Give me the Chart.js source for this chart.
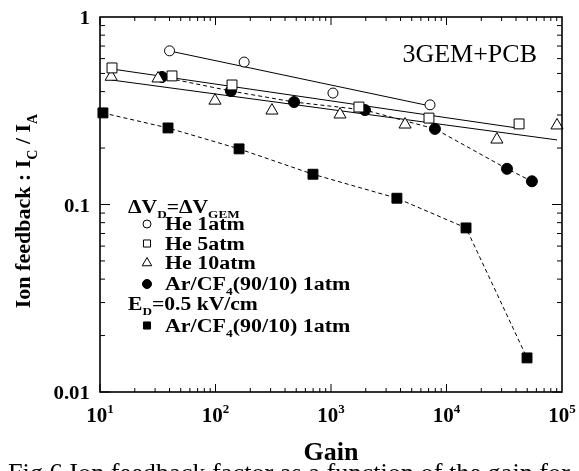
<!DOCTYPE html>
<html lang="en">
<head>
<meta charset="UTF-8">
<title>Ion feedback vs gain</title>
<script src="https://cdn.jsdelivr.net/npm/chart.js"></script>
<style>
  body { margin: 0; background: #fff; }
  canvas { display: block; }
</style>
</head>
<body>
<canvas id="chart" width="579" height="471"></canvas>
<script>
const he1Gain = [40, 177, 1040, 7200];
const he1Feedback = [0.66, 0.575, 0.393, 0.34];
const he5Gain = [12.7, 42, 139, 1745, 7050, 42500];
const he5Feedback = [0.535, 0.485, 0.434, 0.331, 0.289, 0.269];
const he10Gain = [12.5, 31.8, 99, 308, 1197, 4380, 27300, 90500];
const he10Feedback = [0.48, 0.47, 0.358, 0.317, 0.302, 0.267, 0.222, 0.264];
const arVGain = [34.4, 136, 479, 1968, 7940, 33400, 54900];
const arVFeedback = [0.479, 0.403, 0.352, 0.319, 0.253, 0.155, 0.133];
const arEGain = [10.6, 38.8, 160, 698, 3720, 14760, 49800];
const arEFeedback = [0.308, 0.256, 0.198, 0.145, 0.108, 0.075, 0.0152];

// straight-line fits (end points) for the He data
const he1FitGain = [40, 6800];
const he1FitValue = [0.659, 0.338];
const he5FitGain = [12.7, 40700];
const he5FitValue = [0.528, 0.256];
const he10FitGain = [12.7, 90600];
const he10FitValue = [0.461, 0.221];

// axis ticks
const xTickExps = [1, 2, 3, 4, 5];
const yTickValues = [0.01, 0.1, 1];
const yTickLabels = ['0.01', '0.1', '1'];

const FONT = "'Liberation Serif', 'DejaVu Serif', serif";

function pts(xs, ys) {
  return xs.map((x, i) => ({ x: x, y: ys[i] }));
}

// text with sub/superscripts: parts = [[text, 'sub'|'sup'|''], ...]
// sx stretches the text horizontally
function drawRich(ctx, x, y, parts, size, weight, align, sx) {
  sx = sx || 1;
  const fontFor = k => weight + ' ' + (k ? Math.round(size * 0.62) : size) + 'px ' + FONT;
  let w = 0;
  parts.forEach(p => { ctx.font = fontFor(p[1]); w += ctx.measureText(p[0]).width; });
  w *= sx;
  if (align === 'center') x -= w / 2;
  if (align === 'right') x -= w;
  ctx.save();
  ctx.translate(x, y);
  ctx.scale(sx, 1);
  ctx.textAlign = 'left';
  ctx.textBaseline = 'alphabetic';
  let cx = 0;
  parts.forEach(p => {
    ctx.font = fontFor(p[1]);
    let dy = 0;
    if (p[1] === 'sub') dy = size * 0.3;
    if (p[1] === 'sup') dy = -size * 0.45;
    ctx.fillText(p[0], cx, dy);
    cx += ctx.measureText(p[0]).width;
  });
  ctx.restore();
}

const legendRows = [
  { header: [['\u0394V', ''], ['D', 'sub'], ['=\u0394V', ''], ['GEM', 'sub']], y: 213 },
  { style: 'circle', fill: '#fff', r: 4, text: [['He 1atm', '']], y: 224 },
  { style: 'rect', fill: '#fff', r: 5, text: [['He 5atm', '']], y: 243.5 },
  { style: 'triangle', fill: '#fff', r: 5.5, text: [['He 10atm', '']], y: 263 },
  { style: 'circle', fill: '#000', r: 4.5, text: [['Ar/CF', ''], ['4', 'sub'], ['(90/10) 1atm', '']], y: 284 },
  { header: [['E', ''], ['D', 'sub'], ['=0.5 kV/cm', '']], y: 310 },
  { style: 'rect', fill: '#000', r: 5, text: [['Ar/CF', ''], ['4', 'sub'], ['(90/10) 1atm', '']], y: 325.5 }
];

const framePlugin = {
  id: 'frame',
  afterDraw(chart) {
    const ctx = chart.ctx;
    const a = chart.chartArea;
    const xs = chart.scales.x, ys = chart.scales.y;
    ctx.save();
    ctx.strokeStyle = '#000';
    ctx.fillStyle = '#000';

    // frame
    ctx.lineWidth = 1.6;
    ctx.strokeRect(a.left, a.top, a.right - a.left, a.bottom - a.top);

    // ticks, pointing inward on all four sides
    ctx.lineWidth = 1;
    ctx.beginPath();
    for (let d = 1; d <= 4; d++) {
      for (let m = 1; m <= 9; m++) {
        const px = xs.getPixelForValue(m * Math.pow(10, d));
        const len = m === 1 ? 8 : 4;
        ctx.moveTo(px, a.bottom); ctx.lineTo(px, a.bottom - len);
        ctx.moveTo(px, a.top); ctx.lineTo(px, a.top + len);
      }
    }
    for (let d = -2; d <= -1; d++) {
      for (let m = 1; m <= 9; m++) {
        const py = ys.getPixelForValue(m * Math.pow(10, d));
        const len = m === 1 ? 10 : 5;
        ctx.moveTo(a.left, py); ctx.lineTo(a.left + len, py);
        ctx.moveTo(a.right, py); ctx.lineTo(a.right - len, py);
      }
    }
    ctx.stroke();

    // tick labels
    xTickExps.forEach(e => {
      const px = xs.getPixelForValue(Math.pow(10, e));
      drawRich(ctx, px, 422, [['10', ''], [String(e), 'sup']], 21, 'bold', 'center');
    });
    yTickValues.forEach((v, i) => {
      drawRich(ctx, 90, ys.getPixelForValue(v) + 7, [[yTickLabels[i], '']], 19, 'bold', 'right', 1.1);
    });

    // axis titles
    drawRich(ctx, 331, 460, [['Gain', '']], 26, 'bold', 'center');
    ctx.save();
    ctx.translate(30, 211);
    ctx.rotate(-Math.PI / 2);
    drawRich(ctx, 0, 0, [['Ion feedback : I', ''], ['C', 'sub'], [' / I', ''], ['A', 'sub']], 22, 'bold', 'center');
    ctx.restore();

    // label in the corner
    drawRich(ctx, 537, 62, [['3GEM+PCB', '']], 26, 'normal', 'right');

    // legend
    legendRows.forEach(row => {
      if (row.header) {
        drawRich(ctx, 128, row.y, row.header, 18, 'bold', 'left', 1.2);
        return;
      }
      ctx.fillStyle = row.fill;
      ctx.strokeStyle = '#000';
      ctx.lineWidth = 1;
      Chart.helpers.drawPoint(ctx, { pointStyle: row.style, radius: row.r, borderWidth: 1, rotation: 0 }, 147, row.y);
      ctx.fillStyle = '#000';
      drawRich(ctx, 165, row.y + 6, row.text, 18, 'bold', 'left', 1.22);
    });

    // figure caption, cut by the bottom edge
    drawRich(ctx, 8, 481, [['Fig.6 Ion feedback factor as a function of the gain for', '']], 25, 'normal', 'left', 1.05);
    ctx.restore();
  }
};

const markerBase = { showLine: false, pointBorderColor: '#000', pointBorderWidth: 1, clip: false };
const fitBase = { borderColor: '#000', borderWidth: 1, pointRadius: 0, showLine: true, clip: false };

new Chart(document.getElementById('chart'), {
  type: 'scatter',
  data: {
    datasets: [
      Object.assign({ label: 'He 1atm', data: pts(he1Gain, he1Feedback), pointStyle: 'circle', pointRadius: 5, pointBackgroundColor: '#fff' }, markerBase),
      Object.assign({ label: 'He 5atm', data: pts(he5Gain, he5Feedback), pointStyle: 'rect', pointRadius: 7, pointBackgroundColor: '#fff' }, markerBase),
      Object.assign({ label: 'He 10atm', data: pts(he10Gain, he10Feedback), pointStyle: 'triangle', pointRadius: 7, pointBackgroundColor: '#fff' }, markerBase),
      {
        label: 'Ar/CF4 dV', data: pts(arVGain, arVFeedback), showLine: true, borderColor: '#000', borderWidth: 1,
        borderDash: [4, 3], pointStyle: 'circle', pointRadius: 5.5, pointBackgroundColor: '#000', pointBorderColor: '#000', clip: false
      },
      {
        label: 'Ar/CF4 ED', data: pts(arEGain, arEFeedback), showLine: true, borderColor: '#000', borderWidth: 1,
        borderDash: [4, 3], pointStyle: 'rect', pointRadius: 7, pointBackgroundColor: '#000', pointBorderColor: '#000', clip: false
      },
      Object.assign({ label: 'fit 1', data: pts(he1FitGain, he1FitValue) }, fitBase),
      Object.assign({ label: 'fit 5', data: pts(he5FitGain, he5FitValue) }, fitBase),
      Object.assign({ label: 'fit 10', data: pts(he10FitGain, he10FitValue) }, fitBase)
    ]
  },
  options: {
    responsive: false,
    animation: false,
    layout: { padding: { left: 100, right: 17, top: 17, bottom: 79 } },
    scales: {
      x: { type: 'logarithmic', min: 10, max: 100000, display: false },
      y: { type: 'logarithmic', min: 0.01, max: 1, display: false }
    },
    plugins: {
      legend: { display: false },
      tooltip: { enabled: false }
    }
  },
  plugins: [framePlugin]
});
</script>
</body>
</html>
